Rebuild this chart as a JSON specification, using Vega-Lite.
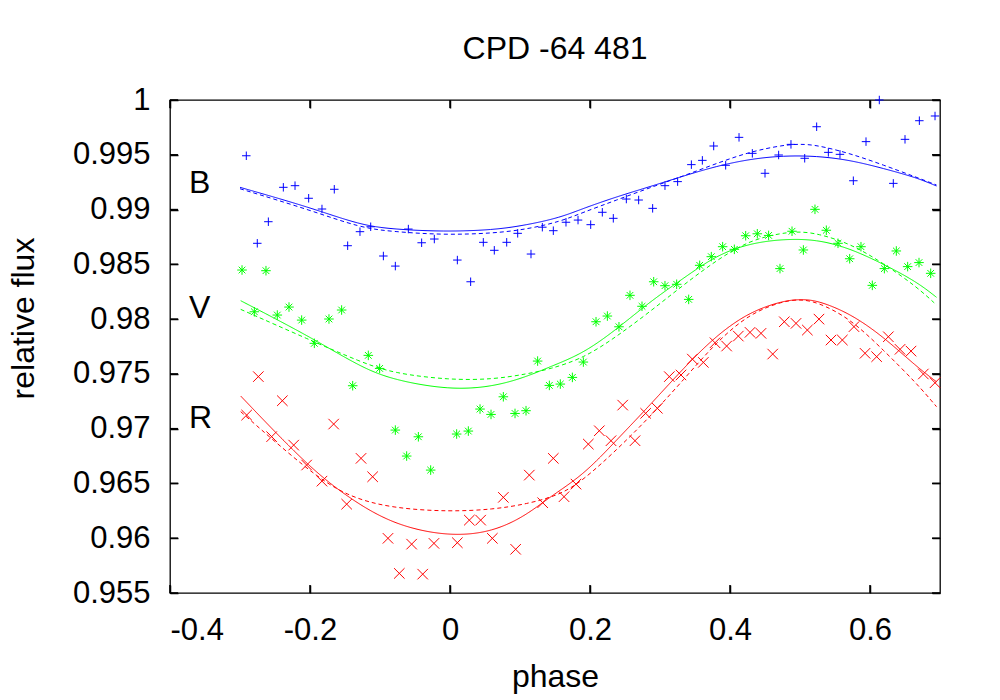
{
  "$schema": "https://vega.github.io/schema/vega-lite/v6.json",
  "width": 770,
  "height": 493,
  "autosize": "none",
  "padding": {"left": 170, "top": 100, "right": 60, "bottom": 107},
  "background": "white",
  "title": {"text": "CPD -64 481", "font": "Liberation Sans", "fontSize": 32, "fontWeight": "normal", "color": "black", "anchor": "middle", "offset": 18},
  "config": {
    "view": {"stroke": "black", "strokeWidth": 1.3},
    "axis": {"domain": false, "grid": false, "offset": -8, "tickColor": "black", "tickSize": 8, "tickWidth": 1.5, "labelFont": "Liberation Sans", "labelFontSize": 31, "labelColor": "black", "titleFont": "Liberation Sans", "titleFontSize": 32, "titleFontWeight": "normal", "titleColor": "black"}
  },
  "datasets": {
    "xticks": [{"v": -0.4}, {"v": -0.2}, {"v": 0}, {"v": 0.2}, {"v": 0.4}, {"v": 0.6}],
    "yticks": [{"v": 0.955}, {"v": 0.96}, {"v": 0.965}, {"v": 0.97}, {"v": 0.975}, {"v": 0.98}, {"v": 0.985}, {"v": 0.99}, {"v": 0.995}, {"v": 1}],
    "pts": [
      {"band":"B","phase":-0.291,"flux":0.99491},{"band":"B","phase":-0.2753,"flux":0.98692},{"band":"B","phase":-0.2595,"flux":0.98889},{"band":"B","phase":-0.2381,"flux":0.99203},{"band":"B","phase":-0.2214,"flux":0.99218},{"band":"B","phase":-0.2019,"flux":0.99103},{"band":"B","phase":-0.1829,"flux":0.99005},{"band":"B","phase":-0.1653,"flux":0.99185},{"band":"B","phase":-0.1462,"flux":0.9867},{"band":"B","phase":-0.1286,"flux":0.98798},{"band":"B","phase":-0.1133,"flux":0.98843},{"band":"B","phase":-0.0952,"flux":0.98576},{"band":"B","phase":-0.0781,"flux":0.98484},{"band":"B","phase":-0.0595,"flux":0.98822},{"band":"B","phase":-0.0405,"flux":0.98697},{"band":"B","phase":-0.0224,"flux":0.98731},{"band":"B","phase":0.0105,"flux":0.98539},{"band":"B","phase":0.0295,"flux":0.98341},{"band":"B","phase":0.0476,"flux":0.98701},{"band":"B","phase":0.0633,"flux":0.98628},{"band":"B","phase":0.081,"flux":0.98701},{"band":"B","phase":0.0967,"flux":0.98783},{"band":"B","phase":0.1157,"flux":0.98594},{"band":"B","phase":0.1319,"flux":0.98839},{"band":"B","phase":0.1476,"flux":0.98807},{"band":"B","phase":0.1657,"flux":0.98884},{"band":"B","phase":0.1829,"flux":0.98904},{"band":"B","phase":0.201,"flux":0.98862},{"band":"B","phase":0.2176,"flux":0.98975},{"band":"B","phase":0.2333,"flux":0.9892},{"band":"B","phase":0.2519,"flux":0.99096},{"band":"B","phase":0.2695,"flux":0.99087},{"band":"B","phase":0.2895,"flux":0.99011},{"band":"B","phase":0.3071,"flux":0.99218},{"band":"B","phase":0.3252,"flux":0.99255},{"band":"B","phase":0.3448,"flux":0.9941},{"band":"B","phase":0.3605,"flux":0.99449},{"band":"B","phase":0.3767,"flux":0.9958},{"band":"B","phase":0.3938,"flux":0.99404},{"band":"B","phase":0.4129,"flux":0.99659},{"band":"B","phase":0.4319,"flux":0.99513},{"band":"B","phase":0.45,"flux":0.99331},{"band":"B","phase":0.4695,"flux":0.99498},{"band":"B","phase":0.4871,"flux":0.99595},{"band":"B","phase":0.5067,"flux":0.99468},{"band":"B","phase":0.5238,"flux":0.99756},{"band":"B","phase":0.5405,"flux":0.99522},{"band":"B","phase":0.5571,"flux":0.99504},{"band":"B","phase":0.5762,"flux":0.99263},{"band":"B","phase":0.5943,"flux":0.9962},{"band":"B","phase":0.6133,"flux":1.0},{"band":"B","phase":0.6333,"flux":0.99239},{"band":"B","phase":0.65,"flux":0.99641},{"band":"B","phase":0.6705,"flux":0.99811},{"band":"B","phase":0.6929,"flux":0.99854},
      {"band":"V","phase":-0.2971,"flux":0.98448},{"band":"V","phase":-0.2629,"flux":0.98442},{"band":"V","phase":-0.2795,"flux":0.98067},{"band":"V","phase":-0.2467,"flux":0.98037},{"band":"V","phase":-0.23,"flux":0.9811},{"band":"V","phase":-0.2119,"flux":0.97991},{"band":"V","phase":-0.1938,"flux":0.97779},{"band":"V","phase":-0.1729,"flux":0.98001},{"band":"V","phase":-0.1548,"flux":0.98083},{"band":"V","phase":-0.139,"flux":0.97392},{"band":"V","phase":-0.1167,"flux":0.97669},{"band":"V","phase":-0.1005,"flux":0.9755},{"band":"V","phase":-0.0781,"flux":0.96987},{"band":"V","phase":-0.0619,"flux":0.9675},{"band":"V","phase":-0.0452,"flux":0.96926},{"band":"V","phase":-0.0276,"flux":0.96622},{"band":"V","phase":0.0095,"flux":0.96951},{"band":"V","phase":0.0262,"flux":0.96978},{"band":"V","phase":0.0429,"flux":0.97179},{"band":"V","phase":0.0586,"flux":0.9713},{"band":"V","phase":0.0762,"flux":0.97291},{"band":"V","phase":0.0929,"flux":0.97139},{"band":"V","phase":0.1086,"flux":0.97164},{"band":"V","phase":0.1252,"flux":0.97617},{"band":"V","phase":0.1419,"flux":0.97395},{"band":"V","phase":0.1576,"flux":0.97407},{"band":"V","phase":0.1748,"flux":0.97468},{"band":"V","phase":0.1905,"flux":0.97608},{"band":"V","phase":0.2086,"flux":0.97976},{"band":"V","phase":0.2248,"flux":0.98028},{"band":"V","phase":0.2414,"flux":0.9793},{"band":"V","phase":0.2571,"flux":0.98217},{"band":"V","phase":0.2743,"flux":0.98117},{"band":"V","phase":0.291,"flux":0.98341},{"band":"V","phase":0.3071,"flux":0.98305},{"band":"V","phase":0.3238,"flux":0.98318},{"band":"V","phase":0.341,"flux":0.9818},{"band":"V","phase":0.3567,"flux":0.98491},{"band":"V","phase":0.3733,"flux":0.9857},{"band":"V","phase":0.3895,"flux":0.98661},{"band":"V","phase":0.4062,"flux":0.98637},{"band":"V","phase":0.4224,"flux":0.98761},{"band":"V","phase":0.439,"flux":0.98779},{"band":"V","phase":0.4552,"flux":0.98764},{"band":"V","phase":0.4714,"flux":0.98461},{"band":"V","phase":0.4886,"flux":0.98802},{"band":"V","phase":0.5048,"flux":0.98631},{"band":"V","phase":0.5214,"flux":0.99002},{"band":"V","phase":0.5376,"flux":0.98811},{"band":"V","phase":0.5543,"flux":0.98692},{"band":"V","phase":0.571,"flux":0.98551},{"band":"V","phase":0.5871,"flux":0.98661},{"band":"V","phase":0.6033,"flux":0.98308},{"band":"V","phase":0.6205,"flux":0.98461},{"band":"V","phase":0.6376,"flux":0.98622},{"band":"V","phase":0.6538,"flux":0.98479},{"band":"V","phase":0.67,"flux":0.98516},{"band":"V","phase":0.6867,"flux":0.98418},
      {"band":"R","phase":-0.2905,"flux":0.97124},{"band":"R","phase":-0.2738,"flux":0.97475},{"band":"R","phase":-0.2548,"flux":0.96927},{"band":"R","phase":-0.2395,"flux":0.97255},{"band":"R","phase":-0.2233,"flux":0.9685},{"band":"R","phase":-0.2048,"flux":0.96668},{"band":"R","phase":-0.1829,"flux":0.96521},{"band":"R","phase":-0.1662,"flux":0.97042},{"band":"R","phase":-0.1476,"flux":0.96311},{"band":"R","phase":-0.1271,"flux":0.96729},{"band":"R","phase":-0.1105,"flux":0.96561},{"band":"R","phase":-0.0886,"flux":0.95999},{"band":"R","phase":-0.0724,"flux":0.95679},{"band":"R","phase":-0.0548,"flux":0.95946},{"band":"R","phase":-0.039,"flux":0.95672},{"band":"R","phase":-0.0229,"flux":0.95953},{"band":"R","phase":0.0105,"flux":0.95959},{"band":"R","phase":0.0276,"flux":0.96165},{"band":"R","phase":0.0438,"flux":0.96165},{"band":"R","phase":0.0605,"flux":0.95999},{"band":"R","phase":0.0762,"flux":0.96373},{"band":"R","phase":0.0938,"flux":0.95899},{"band":"R","phase":0.1133,"flux":0.96576},{"band":"R","phase":0.1324,"flux":0.96324},{"band":"R","phase":0.1476,"flux":0.96729},{"band":"R","phase":0.1629,"flux":0.96379},{"band":"R","phase":0.18,"flux":0.96494},{"band":"R","phase":0.1976,"flux":0.96859},{"band":"R","phase":0.2133,"flux":0.96981},{"band":"R","phase":0.23,"flux":0.9689},{"band":"R","phase":0.2467,"flux":0.97215},{"band":"R","phase":0.2643,"flux":0.9689},{"band":"R","phase":0.2795,"flux":0.9714},{"band":"R","phase":0.2962,"flux":0.97186},{"band":"R","phase":0.3133,"flux":0.97475},{"band":"R","phase":0.33,"flux":0.9749},{"band":"R","phase":0.3462,"flux":0.97635},{"band":"R","phase":0.3619,"flux":0.97605},{"band":"R","phase":0.3786,"flux":0.97784},{"band":"R","phase":0.3952,"flux":0.97754},{"band":"R","phase":0.4119,"flux":0.97845},{"band":"R","phase":0.4286,"flux":0.97879},{"band":"R","phase":0.4443,"flux":0.9787},{"band":"R","phase":0.461,"flux":0.97681},{"band":"R","phase":0.4776,"flux":0.97976},{"band":"R","phase":0.4943,"flux":0.97961},{"band":"R","phase":0.5105,"flux":0.979},{"band":"R","phase":0.5271,"flux":0.98},{"band":"R","phase":0.5443,"flux":0.97809},{"band":"R","phase":0.5605,"flux":0.97809},{"band":"R","phase":0.5771,"flux":0.97931},{"band":"R","phase":0.5929,"flux":0.97688},{"band":"R","phase":0.6095,"flux":0.97657},{"band":"R","phase":0.6262,"flux":0.97839},{"band":"R","phase":0.6429,"flux":0.97724},{"band":"R","phase":0.6586,"flux":0.97708},{"band":"R","phase":0.6762,"flux":0.97499},{"band":"R","phase":0.6929,"flux":0.97419}
    ],
    "models": [
      {"band":"B","model":"solid","phase":-0.3,"flux":0.99203},{"band":"B","model":"solid","phase":-0.2,"flux":0.9902},{"band":"B","model":"solid","phase":-0.1286,"flux":0.98859},{"band":"B","model":"solid","phase":-0.081,"flux":0.9882},{"band":"B","model":"solid","phase":-0.0095,"flux":0.98798},{"band":"B","model":"solid","phase":0.062,"flux":0.98813},{"band":"B","model":"solid","phase":0.1095,"flux":0.98859},{"band":"B","model":"solid","phase":0.157,"flux":0.98926},{"band":"B","model":"solid","phase":0.1905,"flux":0.99011},{"band":"B","model":"solid","phase":0.238,"flux":0.99117},{"band":"B","model":"solid","phase":0.2857,"flux":0.99209},{"band":"B","model":"solid","phase":0.3333,"flux":0.99306},{"band":"B","model":"solid","phase":0.381,"flux":0.99397},{"band":"B","model":"solid","phase":0.4286,"flux":0.99461},{"band":"B","model":"solid","phase":0.4762,"flux":0.99492},{"band":"B","model":"solid","phase":0.5238,"flux":0.99489},{"band":"B","model":"solid","phase":0.5714,"flux":0.99452},{"band":"B","model":"solid","phase":0.619,"flux":0.99376},{"band":"B","model":"solid","phase":0.6667,"flux":0.99291},{"band":"B","model":"solid","phase":0.695,"flux":0.99215},
      {"band":"B","model":"dashed","phase":-0.3,"flux":0.9919},{"band":"B","model":"dashed","phase":-0.2,"flux":0.98996},{"band":"B","model":"dashed","phase":-0.1286,"flux":0.98834},{"band":"B","model":"dashed","phase":-0.081,"flux":0.98798},{"band":"B","model":"dashed","phase":-0.0095,"flux":0.98768},{"band":"B","model":"dashed","phase":0.062,"flux":0.98783},{"band":"B","model":"dashed","phase":0.1095,"flux":0.9882},{"band":"B","model":"dashed","phase":0.157,"flux":0.98889},{"band":"B","model":"dashed","phase":0.1905,"flux":0.98975},{"band":"B","model":"dashed","phase":0.238,"flux":0.99087},{"band":"B","model":"dashed","phase":0.2857,"flux":0.992},{"band":"B","model":"dashed","phase":0.3333,"flux":0.99306},{"band":"B","model":"dashed","phase":0.381,"flux":0.99422},{"band":"B","model":"dashed","phase":0.4286,"flux":0.99528},{"band":"B","model":"dashed","phase":0.4762,"flux":0.99589},{"band":"B","model":"dashed","phase":0.5,"flux":0.99598},{"band":"B","model":"dashed","phase":0.5238,"flux":0.99589},{"band":"B","model":"dashed","phase":0.5714,"flux":0.99513},{"band":"B","model":"dashed","phase":0.619,"flux":0.99407},{"band":"B","model":"dashed","phase":0.6667,"flux":0.99294},{"band":"B","model":"dashed","phase":0.695,"flux":0.99224},
      {"band":"V","model":"solid","phase":-0.299,"flux":0.98168},{"band":"V","model":"solid","phase":-0.2,"flux":0.9784},{"band":"V","model":"solid","phase":-0.1286,"flux":0.97565},{"band":"V","model":"solid","phase":-0.081,"flux":0.97444},{"band":"V","model":"solid","phase":0,"flux":0.97353},{"band":"V","model":"solid","phase":0.062,"flux":0.97383},{"band":"V","model":"solid","phase":0.1095,"flux":0.97474},{"band":"V","model":"solid","phase":0.1429,"flux":0.97565},{"band":"V","model":"solid","phase":0.1905,"flux":0.97687},{"band":"V","model":"solid","phase":0.238,"flux":0.97907},{"band":"V","model":"solid","phase":0.2857,"flux":0.98159},{"band":"V","model":"solid","phase":0.3333,"flux":0.98372},{"band":"V","model":"solid","phase":0.381,"flux":0.98585},{"band":"V","model":"solid","phase":0.4286,"flux":0.98692},{"band":"V","model":"solid","phase":0.4762,"flux":0.98731},{"band":"V","model":"solid","phase":0.5238,"flux":0.98728},{"band":"V","model":"solid","phase":0.5714,"flux":0.98646},{"band":"V","model":"solid","phase":0.619,"flux":0.98503},{"band":"V","model":"solid","phase":0.6667,"flux":0.98341},{"band":"V","model":"solid","phase":0.695,"flux":0.98199},
      {"band":"V","model":"dashed","phase":-0.299,"flux":0.98089},{"band":"V","model":"dashed","phase":-0.2,"flux":0.97809},{"band":"V","model":"dashed","phase":-0.1286,"flux":0.97611},{"band":"V","model":"dashed","phase":-0.081,"flux":0.97505},{"band":"V","model":"dashed","phase":0,"flux":0.97444},{"band":"V","model":"dashed","phase":0.062,"flux":0.9745},{"band":"V","model":"dashed","phase":0.1095,"flux":0.97499},{"band":"V","model":"dashed","phase":0.1429,"flux":0.97544},{"band":"V","model":"dashed","phase":0.1905,"flux":0.97642},{"band":"V","model":"dashed","phase":0.238,"flux":0.9784},{"band":"V","model":"dashed","phase":0.2857,"flux":0.98068},{"band":"V","model":"dashed","phase":0.3333,"flux":0.98311},{"band":"V","model":"dashed","phase":0.381,"flux":0.98539},{"band":"V","model":"dashed","phase":0.4286,"flux":0.98722},{"band":"V","model":"dashed","phase":0.4762,"flux":0.98789},{"band":"V","model":"dashed","phase":0.5,"flux":0.98798},{"band":"V","model":"dashed","phase":0.5238,"flux":0.98783},{"band":"V","model":"dashed","phase":0.5714,"flux":0.98692},{"band":"V","model":"dashed","phase":0.619,"flux":0.9851},{"band":"V","model":"dashed","phase":0.6667,"flux":0.98296},{"band":"V","model":"dashed","phase":0.695,"flux":0.98129},
      {"band":"R","model":"solid","phase":-0.299,"flux":0.97298},{"band":"R","model":"solid","phase":-0.2048,"flux":0.96668},{"band":"R","model":"solid","phase":-0.1476,"flux":0.96379},{"band":"R","model":"solid","phase":-0.081,"flux":0.9612},{"band":"R","model":"solid","phase":0,"flux":0.96013},{"band":"R","model":"solid","phase":0.062,"flux":0.96059},{"band":"R","model":"solid","phase":0.1095,"flux":0.96211},{"band":"R","model":"solid","phase":0.1429,"flux":0.96379},{"band":"R","model":"solid","phase":0.1905,"flux":0.96576},{"band":"R","model":"solid","phase":0.238,"flux":0.96896},{"band":"R","model":"solid","phase":0.2857,"flux":0.97215},{"band":"R","model":"solid","phase":0.3333,"flux":0.97551},{"band":"R","model":"solid","phase":0.381,"flux":0.97855},{"band":"R","model":"solid","phase":0.4286,"flux":0.98068},{"band":"R","model":"solid","phase":0.4762,"flux":0.98168},{"band":"R","model":"solid","phase":0.5,"flux":0.9818},{"band":"R","model":"solid","phase":0.5238,"flux":0.98174},{"band":"R","model":"solid","phase":0.5714,"flux":0.98053},{"band":"R","model":"solid","phase":0.619,"flux":0.9784},{"band":"R","model":"solid","phase":0.6667,"flux":0.97565},{"band":"R","model":"solid","phase":0.695,"flux":0.97428},
      {"band":"R","model":"dashed","phase":-0.299,"flux":0.97155},{"band":"R","model":"dashed","phase":-0.2048,"flux":0.96628},{"band":"R","model":"dashed","phase":-0.1476,"flux":0.96379},{"band":"R","model":"dashed","phase":-0.081,"flux":0.96272},{"band":"R","model":"dashed","phase":0,"flux":0.96242},{"band":"R","model":"dashed","phase":0.062,"flux":0.96263},{"band":"R","model":"dashed","phase":0.1095,"flux":0.96312},{"band":"R","model":"dashed","phase":0.157,"flux":0.96394},{"band":"R","model":"dashed","phase":0.1905,"flux":0.96531},{"band":"R","model":"dashed","phase":0.238,"flux":0.96805},{"band":"R","model":"dashed","phase":0.2857,"flux":0.97109},{"band":"R","model":"dashed","phase":0.3333,"flux":0.97444},{"band":"R","model":"dashed","phase":0.381,"flux":0.97794},{"band":"R","model":"dashed","phase":0.4286,"flux":0.98053},{"band":"R","model":"dashed","phase":0.4762,"flux":0.98165},{"band":"R","model":"dashed","phase":0.5,"flux":0.9818},{"band":"R","model":"dashed","phase":0.5238,"flux":0.98159},{"band":"R","model":"dashed","phase":0.5714,"flux":0.98008},{"band":"R","model":"dashed","phase":0.619,"flux":0.97718},{"band":"R","model":"dashed","phase":0.6667,"flux":0.97414},{"band":"R","model":"dashed","phase":0.695,"flux":0.97201}
    ],
    "labels": [
      {"band":"B","phase":-0.3729,"flux":0.99151},
      {"band":"V","phase":-0.3729,"flux":0.9801},
      {"band":"R","phase":-0.3729,"flux":0.97006}
    ]
  },
  "layer": [
    {
      "data": {"name": "pts"},
      "mark": {"type": "point", "filled": false, "strokeWidth": 1, "opacity": 1},
      "encoding": {
        "x": {"field": "phase", "type": "quantitative", "scale": {"domain": [-0.4, 0.7], "nice": false, "zero": false}, "axis": {"orient": "bottom", "values": [-0.4, -0.2, 0, 0.2, 0.4, 0.6], "format": "~g", "labelExpr": "replace(datum.label, '−', '-')", "labelPadding": 22, "title": "phase", "titleX": 385, "titleY": 101, "titleBaseline": "alphabetic", "titleAlign": "center"}},
        "y": {"field": "flux", "type": "quantitative", "scale": {"domain": [0.955, 1], "nice": false, "zero": false}, "axis": {"orient": "left", "values": [0.955, 0.96, 0.965, 0.97, 0.975, 0.98, 0.985, 0.99, 0.995, 1], "format": "~g", "labelPadding": 20, "title": "relative flux", "titleX": -145, "titleY": 218, "titleAngle": 270, "titleBaseline": "alphabetic", "titleAlign": "center"}},
        "color": {"field": "band", "type": "nominal", "scale": {"domain": ["B", "V", "R"], "range": ["#0000ff", "#00ff00", "#ff0000"]}, "legend": null},
        "shape": {"field": "band", "type": "nominal", "scale": {"domain": ["B", "V", "R"], "range": ["M-1,0L1,0M0,-1L0,1", "M-1,0L1,0M0,-1L0,1M-0.7,-0.7L0.7,0.7M-0.7,0.7L0.7,-0.7", "M-1,-1L1,1M-1,1L1,-1"]}, "legend": null},
        "size": {"field": "band", "type": "nominal", "scale": {"domain": ["B", "V", "R"], "range": [72, 110, 90]}, "legend": null}
      }
    },
    {
      "data": {"name": "models"},
      "mark": {"type": "line", "interpolate": "basis", "strokeWidth": 1},
      "encoding": {
        "x": {"field": "phase", "type": "quantitative", "sort": null, "axis": {"orient": "top", "values": [-0.4, -0.2, 0, 0.2, 0.4, 0.6], "labels": false, "title": null}},
        "y": {"field": "flux", "type": "quantitative", "axis": {"orient": "right", "values": [0.955, 0.96, 0.965, 0.97, 0.975, 0.98, 0.985, 0.99, 0.995, 1], "labels": false, "title": null}},
        "color": {"field": "band", "type": "nominal", "legend": null},
        "strokeDash": {"field": "model", "type": "nominal", "scale": {"domain": ["solid", "dashed"], "range": [[1, 0], [4, 3]]}, "legend": null},
        "detail": {"field": "model"}
      }
    },
    {
      "data": {"name": "xticks"},
      "mark": {"type": "rule", "color": "black", "strokeWidth": 1.5},
      "encoding": {
        "x": {"field": "v", "type": "quantitative", "axis": null},
        "y": {"datum": 0.955, "type": "quantitative", "axis": null},
        "y2": {"datum": 0.95573}
      }
    },
    {
      "data": {"name": "xticks"},
      "mark": {"type": "rule", "color": "black", "strokeWidth": 1.5},
      "encoding": {
        "x": {"field": "v", "type": "quantitative", "axis": null},
        "y": {"datum": 1, "type": "quantitative", "axis": null},
        "y2": {"datum": 0.99927}
      }
    },
    {
      "data": {"name": "yticks"},
      "mark": {"type": "rule", "color": "black", "strokeWidth": 1.5},
      "encoding": {
        "y": {"field": "v", "type": "quantitative", "axis": null},
        "x": {"datum": -0.4, "type": "quantitative", "axis": null},
        "x2": {"datum": -0.38857}
      }
    },
    {
      "data": {"name": "yticks"},
      "mark": {"type": "rule", "color": "black", "strokeWidth": 1.5},
      "encoding": {
        "y": {"field": "v", "type": "quantitative", "axis": null},
        "x": {"datum": 0.7, "type": "quantitative", "axis": null},
        "x2": {"datum": 0.68857}
      }
    },
    {
      "data": {"name": "labels"},
      "mark": {"type": "text", "font": "Liberation Sans", "fontSize": 32, "color": "black", "align": "left", "baseline": "alphabetic"},
      "encoding": {
        "x": {"field": "phase", "type": "quantitative", "axis": null},
        "y": {"field": "flux", "type": "quantitative", "axis": null},
        "text": {"field": "band"}
      }
    }
  ],
  "resolve": {"axis": {"x": "independent", "y": "independent"}}
}
